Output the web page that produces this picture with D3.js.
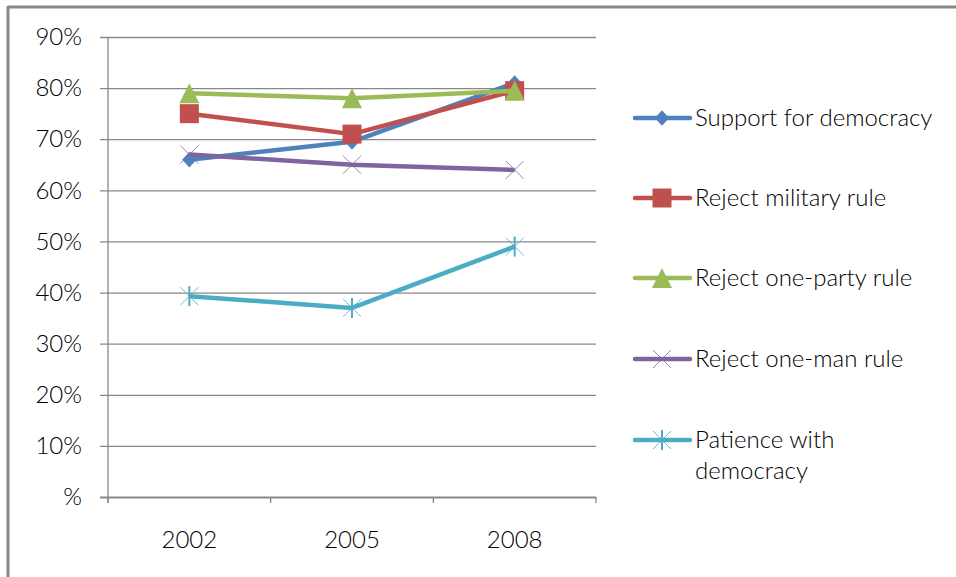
<!DOCTYPE html>
<html>
<head>
<meta charset="utf-8">
<script src="https://cdn.jsdelivr.net/npm/d3@7"></script>
<style>
  body { margin: 0; background: #fff; }
  text { font-family: Lato, "Open Sans", sans-serif; font-weight: 300; fill: #000; }
</style>
</head>
<body>
<div id="chart"></div>
<script>
// 年份与系列数据
const years = ["2002", "2005", "2008"];
const seriesNames = ["Support for democracy", "Reject military rule", "Reject one-party rule", "Reject one-man rule", "Patience with democracy"];
const support = [66, 69.5, 81];
const rejectMilitary = [75, 71, 79.5];
const rejectOneParty = [79, 78, 79.5];
const rejectOneMan = [67, 65, 64];
const patience = [39.3, 37, 49];
const yTicks = [0, 10, 20, 30, 40, 50, 60, 70, 80, 90];

const colors = ["#4F81BD", "#C0504D", "#9BBB59", "#8064A2", "#4BACC6"];
const markers = ["diamond", "square", "triangle", "x", "star"];
const allValues = [support, rejectMilitary, rejectOneParty, rejectOneMan, patience];

const W = 956, H = 577;
const fontSize = 24;
const svg = d3.select("#chart").append("svg").attr("width", W).attr("height", H);

// 外框（只露出上边和左边）
svg.append("line").attr("x1", 8).attr("x2", W).attr("y1", 7).attr("y2", 7)
  .attr("stroke", "#888").attr("stroke-width", 3);
svg.append("line").attr("x1", 8).attr("x2", 8).attr("y1", 6).attr("y2", H)
  .attr("stroke", "#888").attr("stroke-width", 3);

const plotLeft = 108, plotRight = 596, plotTop = 37, plotBottom = 497;

let x = d3.scaleBand().domain(years).range([plotLeft, plotRight]);
let y = d3.scaleLinear().domain([0, 90]).range([plotBottom, plotTop]);

// 网格线和y轴刻度
const yAxis = svg.append("g").attr("transform", "translate(" + plotLeft + ",0)")
  .call(d3.axisLeft(y).tickValues(yTicks).tickSize(-(plotRight - plotLeft)).tickPadding(18)
    .tickFormat(d => d === 0 ? "%" : d + "%"));
yAxis.select(".domain").remove();
yAxis.selectAll(".tick line").attr("stroke", "#888").attr("stroke-width", 1.3).attr("x1", -8);
yAxis.selectAll(".tick text").attr("font-size", fontSize).attr("x", -26);
yAxis.selectAll(".tick").filter(d => d === 0).select("line").attr("stroke-width", 2);

// 竖轴线
svg.append("line").attr("x1", plotLeft).attr("x2", plotLeft).attr("y1", plotTop).attr("y2", plotBottom + 6)
  .attr("stroke", "#888").attr("stroke-width", 1.3);

// x轴
const xAxis = svg.append("g").attr("transform", "translate(0," + plotBottom + ")")
  .call(d3.axisBottom(x).tickSize(0).tickPadding(34));
xAxis.select(".domain").remove();
xAxis.selectAll(".tick text").attr("font-size", fontSize);
// 类别分隔刻度
const bounds = years.map(d => x(d)).concat([plotRight]);
svg.selectAll(".xtick").data(bounds).enter().append("line")
  .attr("x1", d => d).attr("x2", d => d).attr("y1", plotBottom).attr("y2", plotBottom + 6)
  .attr("stroke", "#888").attr("stroke-width", 1.3);

// 画标记
function drawMarker(g, type, cx, cy, color) {
  if (type === "diamond") {
    g.append("path").attr("d", d3.symbol(d3.symbolDiamond2, 130)())
      .attr("transform", "translate(" + cx + "," + cy + ") scale(1,1.1)").attr("fill", color);
  } else if (type === "square") {
    g.append("rect").attr("x", cx - 9.5).attr("y", cy - 9.5).attr("width", 19).attr("height", 19).attr("fill", color);
  } else if (type === "triangle") {
    g.append("path").attr("d", "M" + cx + "," + (cy - 10) + "L" + (cx + 10) + "," + (cy + 10) + "L" + (cx - 10) + "," + (cy + 10) + "Z")
      .attr("fill", color);
  } else if (type === "x") {
    g.append("path").attr("d", "M" + (cx - 9) + "," + (cy - 9) + "L" + (cx + 9) + "," + (cy + 9) +
      "M" + (cx + 9) + "," + (cy - 9) + "L" + (cx - 9) + "," + (cy + 9))
      .attr("stroke", color).attr("stroke-width", 1).attr("opacity", 0.8);
  } else if (type === "star") {
    g.append("path").attr("d", "M" + (cx - 9) + "," + (cy - 9) + "L" + (cx + 9) + "," + (cy + 9) +
      "M" + (cx + 9) + "," + (cy - 9) + "L" + (cx - 9) + "," + (cy + 9))
      .attr("stroke", color).attr("stroke-width", 1).attr("opacity", 0.8);
    g.append("line").attr("x1", cx).attr("x2", cx).attr("y1", cy - 10).attr("y2", cy + 10)
      .attr("stroke", color).attr("stroke-width", 2);
  }
}

const line = d3.line().x((d, i) => x(years[i]) + x.bandwidth() / 2).y(d => y(d));

allValues.forEach(function (vals, k) {
  const g = svg.append("g");
  g.append("path").datum(vals).attr("d", line).attr("fill", "none")
    .attr("stroke", colors[k]).attr("stroke-width", 4.5).attr("stroke-linejoin", "round");
  vals.forEach(function (v, i) {
    drawMarker(g, markers[k], x(years[i]) + x.bandwidth() / 2, y(v), colors[k]);
  });
});

// 图例
const legendY = [118, 198, 278, 359, 440];
seriesNames.forEach(function (name, k) {
  const g = svg.append("g");
  g.append("line").attr("x1", 635).attr("x2", 690).attr("y1", legendY[k]).attr("y2", legendY[k])
    .attr("stroke", colors[k]).attr("stroke-width", 4.5).attr("stroke-linecap", "round");
  drawMarker(g, markers[k], 662, legendY[k], colors[k]);
  const t = g.append("text").attr("x", 695).attr("y", legendY[k] + 8).attr("font-size", fontSize);
  if (k === 4) {
    t.append("tspan").attr("x", 695).text("Patience with");
    t.append("tspan").attr("x", 695).attr("dy", 31).text("democracy");
  } else {
    t.text(name);
  }
});
</script>
</body>
</html>
